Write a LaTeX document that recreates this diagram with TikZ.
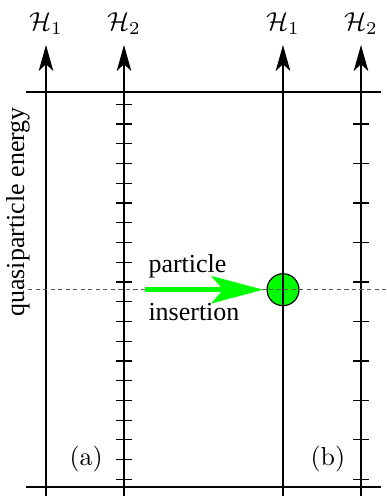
\documentclass[tikz,border=0pt]{standalone}
\usepackage{amsmath}
\usepackage{fontspec}
\newfontfamily\timesfont{Liberation Serif}
\usepackage{tikz}
\usetikzlibrary{arrows.meta, positioning, calc}

\begin{document}
\begin{tikzpicture}[x=0.385pt, y=-0.385pt,
      >={Stealth[length=10pt, width=5.6pt, inset=2.6pt]},
      axis/.style={line width=0.45pt, ->},
      level/.style={line width=0.45pt},
      fermi/.style={dash pattern=on 1.6pt off 1.3pt, black!65, line width=0.4pt},
      txt/.style={font=\timesfont, inner sep=0pt},
      particle/.style={circle, draw, fill=green, line width=0.45pt,
                       minimum size=12.3pt, inner sep=0pt}]

    \useasboundingbox (0,0) rectangle (386,496);

    % inserted particle
    \node[particle] (P) at (283,289.7) {};

    % hilbert space axes
    \foreach \x/\n/\name in {46/1/a1, 124/2/a2, 283/1/b1, 361/2/b2} {
      \coordinate (\name-bot) at (\x,496);
      \coordinate (\name-top) at (\x,45);
      \node[anchor=base] (\name-lab) at (\x,31) {$\mathcal{H}_\n$};
      \draw[axis] (\name-bot) -- (\name-top);
    }

    % band edges
    \coordinate (TL) at (26,92);   \coordinate (TR) at (381,92);
    \coordinate (BL) at (26,487);  \coordinate (BR) at (381,487);
    \draw[level] (TL) -- (TR);
    \draw[level] (BL) -- (BR);

    % levels
    \foreach \k in {0,...,19}
      \draw[level] (116,{104.3+19.74*\k}) -- (132,{104.3+19.74*\k});
    \foreach \k in {1,3,...,19}
      \draw[level] (353,{104.3+19.74*\k}) -- (369,{104.3+19.74*\k});

    % chemical potential
    \coordinate (MU) at (28,289.7);
    \coordinate (MUe) at (386,289.7);
    \draw[fermi] (MU) -- (MUe);

    % insertion arrow
    \coordinate (S) at (145,289.7);
    \draw[green, line width=2pt, shorten >=1.2pt,
          -{Stealth[length=20pt, width=10.5pt, inset=4.5pt]}] (S) -- (P.west);
    \node[txt, anchor=base west] (t1) at (148,273) {particle};
    \node[txt, anchor=base west] (t2) at (148,320) {insertion};

    \node[txt, rotate=90] (E) at (18,212) {quasiparticle energy};
    \node[anchor=base west, inner sep=0pt] (la) at (69,465) {(a)};
    \node[anchor=base west, inner sep=0pt] (lb) at (310,465) {(b)};
  \end{tikzpicture}
\end{document}
